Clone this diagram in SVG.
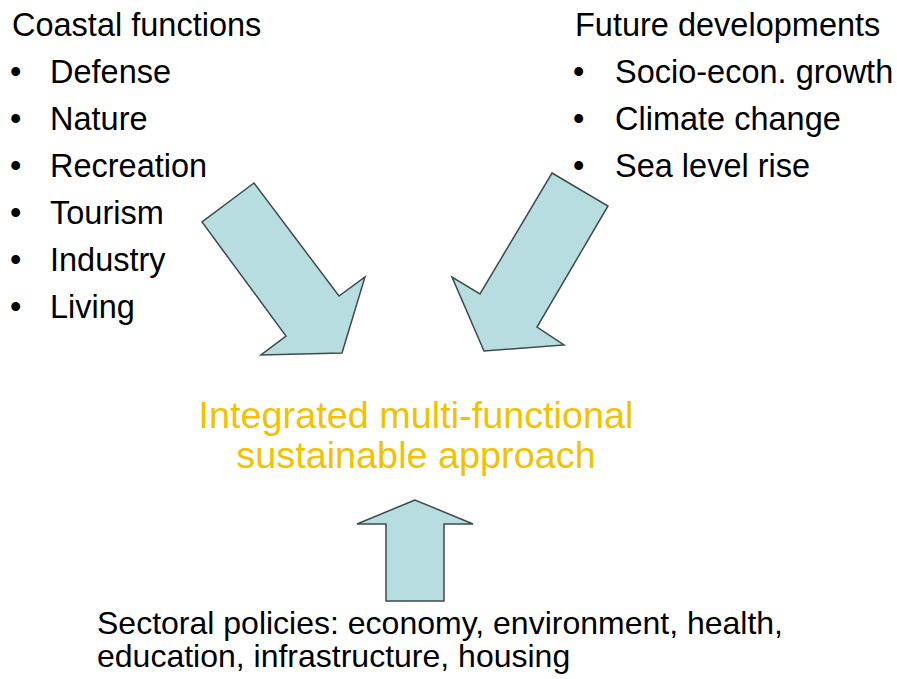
<svg xmlns="http://www.w3.org/2000/svg" width="897" height="679" viewBox="0 0 897 679">
  <style>
    .lbl { font-family: "Liberation Sans", Arial, sans-serif; fill: #000; }
    .list { font-size: 32.5px; }
    .main { font-family: "Liberation Sans", Arial, sans-serif; font-size: 37.8px; fill: #F2C200; text-anchor: middle; }
    .foot { font-size: 32px; }
    .arrow { fill: #B8DDE0; stroke: #3C4A4E; stroke-width: 1.5; stroke-linejoin: miter; }
  </style>
  <rect width="897" height="679" fill="#fff"/>

  <g id="coastal-functions" class="lbl list">
    <text x="12" y="36">Coastal functions</text>
    <text x="10" y="83">•</text><text x="50" y="83">Defense</text>
    <text x="10" y="130">•</text><text x="50" y="130">Nature</text>
    <text x="10" y="177">•</text><text x="50" y="177">Recreation</text>
    <text x="10" y="224">•</text><text x="50" y="224">Tourism</text>
    <text x="10" y="271">•</text><text x="50" y="271">Industry</text>
    <text x="10" y="318">•</text><text x="50" y="318">Living</text>
  </g>

  <g id="future-developments" class="lbl list">
    <text x="575" y="36">Future developments</text>
    <text x="573" y="83">•</text><text x="615" y="83">Socio-econ. growth</text>
    <text x="573" y="130">•</text><text x="615" y="130">Climate change</text>
    <text x="573" y="177">•</text><text x="615" y="177">Sea level rise</text>
  </g>

  <g id="approach">
    <text class="main" x="416" y="428">Integrated multi-functional</text>
    <text class="main" x="416" y="468">sustainable approach</text>
  </g>

  <g id="sectoral-policies" class="lbl foot">
    <text x="97" y="634">Sectoral policies: economy, environment, health,</text>
    <text x="97" y="667">education, infrastructure, housing</text>
  </g>

  <g id="connectors">
    <polygon class="arrow" points="254,183 202,222 286,336 261,355 342,353 365,277 339,296"/>
    <polygon class="arrow" points="552,173 608,206 537,327 564,345 484,351 452,277 480,294"/>
    <polygon class="arrow" points="415,500 357,524 386,524 386,601 444,601 444,524 473,524"/>
  </g>
</svg>
